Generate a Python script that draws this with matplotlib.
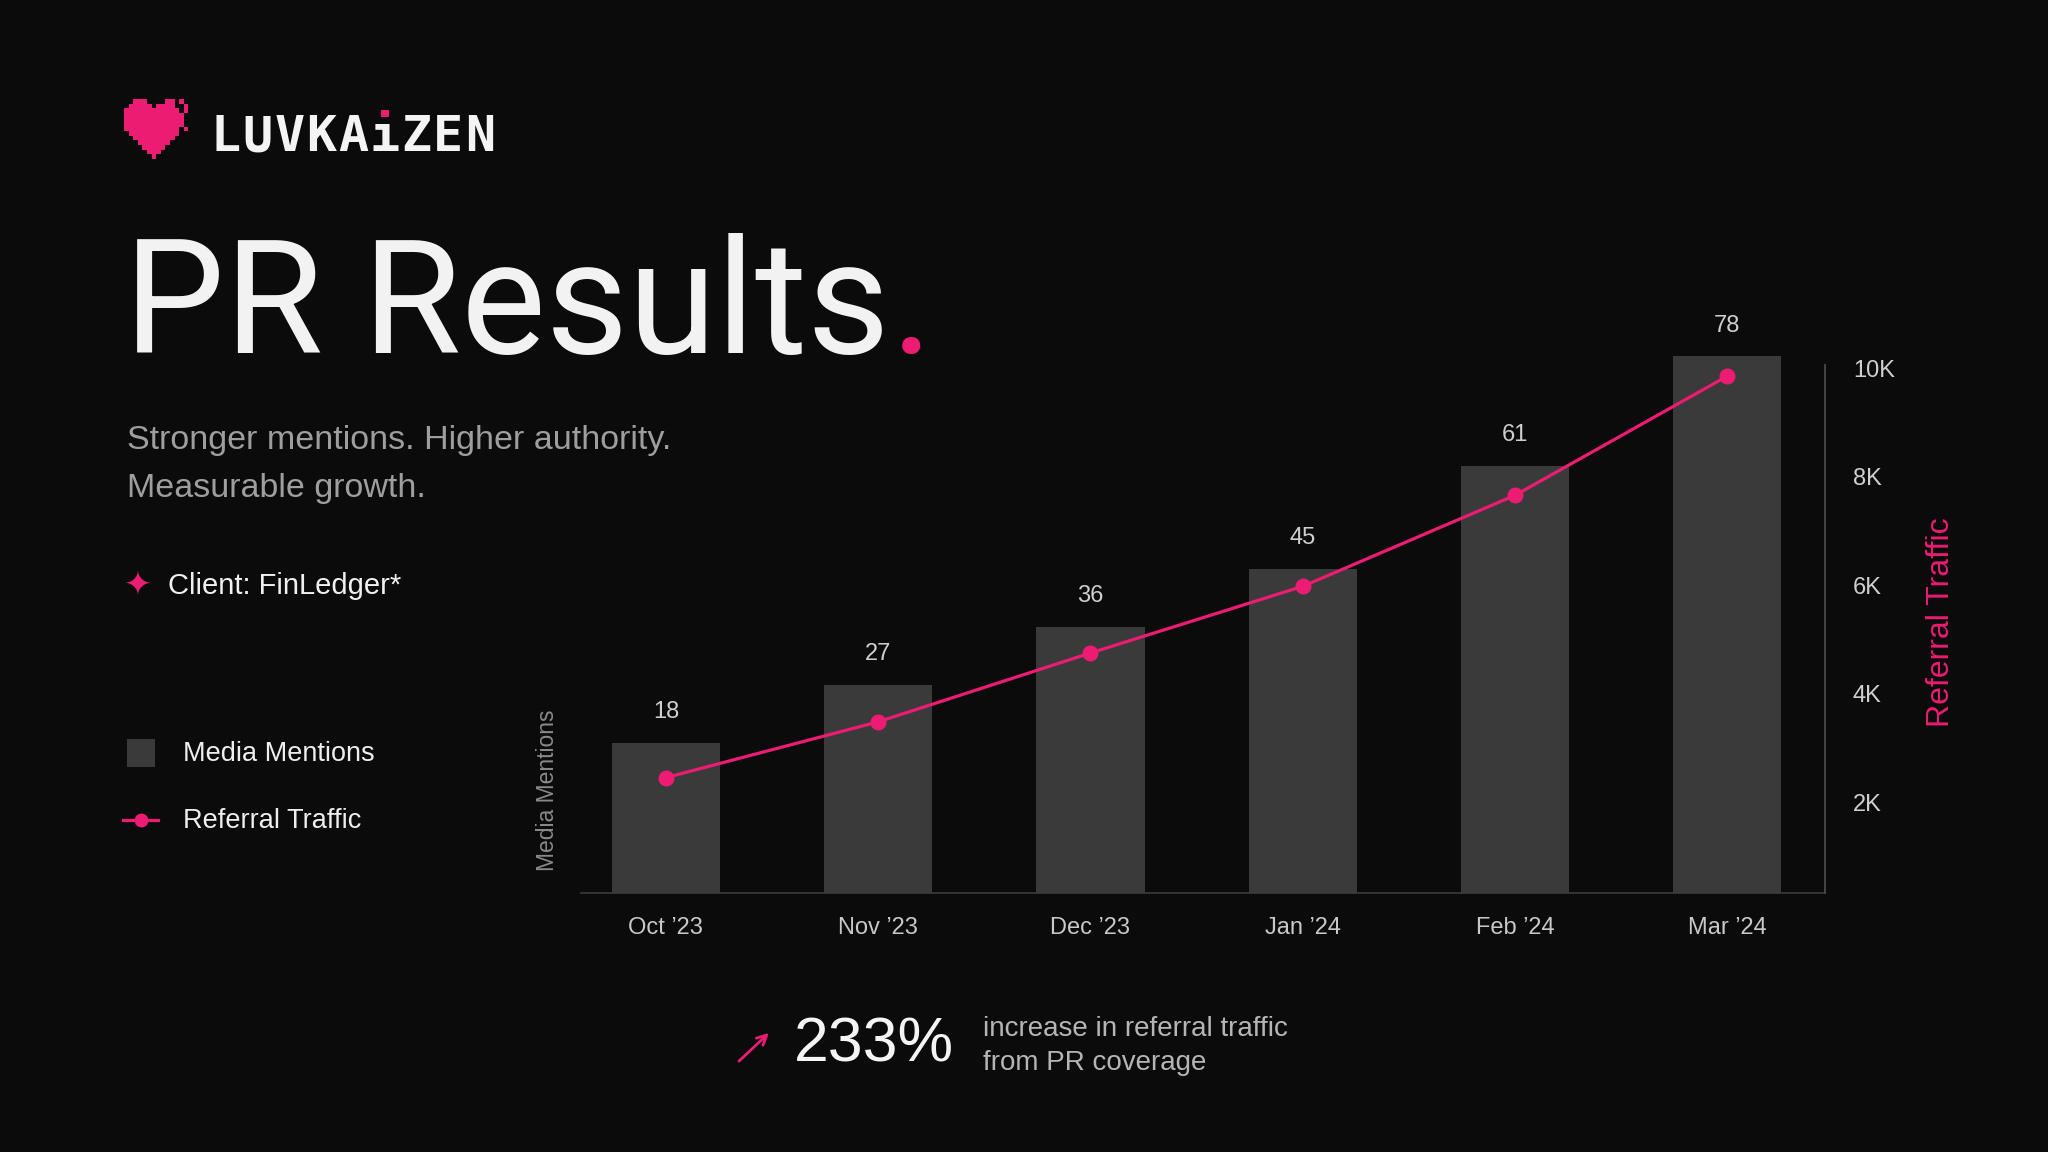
import matplotlib
matplotlib.use("Agg")
import matplotlib.pyplot as plt
from matplotlib.patches import Rectangle
import numpy as np

# data
months = ["Oct \u201923", "Nov \u201923", "Dec \u201923", "Jan \u201924", "Feb \u201924", "Mar \u201924"]
mentions = [18, 27, 36, 45, 61, 78]
referral = [2450, 3480, 4750, 5980, 7660, 9860]
traffic_ticks = [2000, 4000, 6000, 8000, 10000]
traffic_labels = ["2K", "4K", "6K", "8K", "10K"]

BG = "#0b0b0b"
PINK = "#ec1c72"
BAR = "#3a3a3a"
W, H = 2048, 1152

plt.rcParams['font.family'] = ['Liberation Sans', 'DejaVu Sans']

fig = plt.figure(figsize=(W / 100, H / 100), dpi=100, facecolor=BG)


def px_box(l, t, r, b):
    return [l / W, 1 - b / H, (r - l) / W, (b - t) / H]


# --- chart ---
ax = fig.add_axes(px_box(581, 350, 1825, 893))
ax.set_facecolor('none')
x = np.arange(len(months))
base = -5.3
ax.bar(x, np.array(mentions) - base, bottom=base, width=0.51, color=BAR, zorder=1, clip_on=False)
ax.set_xlim(-0.40, 5.46)
ax.set_ylim(base, 79.0)
for xi, v in zip(x, mentions):
    ax.annotate(str(v), (xi, v), xytext=(0, 22), textcoords='offset points', ha='center', va='center',
                color='#cfcfcf', fontsize=17, annotation_clip=False)
ax.set_xticks(x, months)
ax.tick_params(axis='x', length=0, pad=17, labelsize=17, labelcolor='#c8c8c8')
ax.set_yticks([])
for s in ['top', 'left', 'right']:
    ax.spines[s].set_visible(False)
ax.spines['bottom'].set_color('#3c3c3c')
ax.spines['bottom'].set_linewidth(1.2)

ax2 = ax.twinx()
ax2.plot(x, referral, color=PINK, lw=2.3, marker='o', ms=10.5, zorder=3, clip_on=False)
ax2.set_ylim(321, 10341)
ax2.set_yticks(traffic_ticks, traffic_labels)
ax2.tick_params(axis='y', length=0, pad=20, labelsize=17, labelcolor='#cfcfcf')
for s in ['top', 'left', 'bottom']:
    ax2.spines[s].set_visible(False)
ax2.spines['right'].set_bounds(321, 10060)
ax2.spines['right'].set_color('#4a4a4a')
ax2.spines['right'].set_linewidth(1.3)

# --- overlay in pixel coords ---
ov = fig.add_axes([0, 0, 1, 1])
ov.set_xlim(0, W)
ov.set_ylim(H, 0)
ov.axis('off')
ov.patch.set_alpha(0)

# pixel heart logo
heart = [
    "..###....##.#.",
    ".#####.####..#",
    "############.#",
    "#############.",
    "#############.",
    "#############.",
    "############.#",
    ".###########..",
    "..#########...",
    "...#######....",
    "....#####.....",
    ".....###......",
    "......#.......",
]
cell = 4.6
for r, row in enumerate(heart):
    for c, ch in enumerate(row):
        if ch == '#':
            ov.add_patch(Rectangle((124 + c * cell, 99 + r * cell), cell, cell, color=PINK, lw=0))

logo = "LUVKA\u0131ZEN"
step = (496 - 210) / len(logo)
for i, ch in enumerate(logo):
    cx = 210 + step * (i + 0.5)
    ov.text(cx, 151, ch, ha='center', va='baseline', fontsize=36, fontweight='bold',
            family='DejaVu Sans Mono', color='#f4f4f4')
    if ch == "\u0131":
        ov.add_patch(Rectangle((cx - 4, 110), 8, 7, color=PINK, lw=0))

renderer = fig.canvas.get_renderer()

# title with a pink full stop
t = ov.text(124, 353, "PR Results", family='Roboto', fontsize=115, color='#f2f2f2', va='baseline')
tw = t.get_window_extent(renderer).width
ov.text(124 + tw + 1, 353, ".", family='Roboto', fontsize=115, color=PINK, va='baseline')

ov.text(127, 449, "Stronger mentions. Higher authority.", fontsize=24.5, color='#9e9e9e', va='baseline')
ov.text(127, 497, "Measurable growth.", fontsize=24.5, color='#9e9e9e', va='baseline')

ov.text(138, 586, "\u2726", family='DejaVu Sans', fontsize=24, color=PINK, ha='center', va='center')
ov.text(168, 586, "Client: FinLedger*", fontsize=21, color='#f0f0f0', va='center')

# legend
ov.add_patch(Rectangle((127, 739), 28, 28, color=BAR, lw=0))
ov.text(183, 754, "Media Mentions", fontsize=19.5, color='#eeeeee', va='center')
ov.plot([123, 158], [820, 820], color=PINK, lw=2.3)
ov.plot([141], [820], 'o', color=PINK, ms=9)
ov.text(183, 821, "Referral Traffic", fontsize=19.5, color='#eeeeee', va='center')

# axis titles
ov.text(547, 790, "Media Mentions", rotation=90, fontsize=16.5, color='#8a8a8a', ha='center', va='center')
ov.text(1941, 622, "Referral Traffic", rotation=90, fontsize=23, color=PINK, ha='center', va='center')

# bottom stat
ov.annotate("", xy=(771, 1031), xytext=(737, 1063),
            arrowprops=dict(arrowstyle='->,head_length=0.7,head_width=0.35', color=PINK, lw=2))
ov.text(794, 1045, "233%", fontsize=45, color='#f4f4f4', va='center')
ov.text(983, 1029, "increase in referral traffic", fontsize=20, color='#b5b5b5', va='center')
ov.text(983, 1063, "from PR coverage", fontsize=20, color='#b5b5b5', va='center')

fig.savefig("out.png", dpi=100, facecolor=BG)
